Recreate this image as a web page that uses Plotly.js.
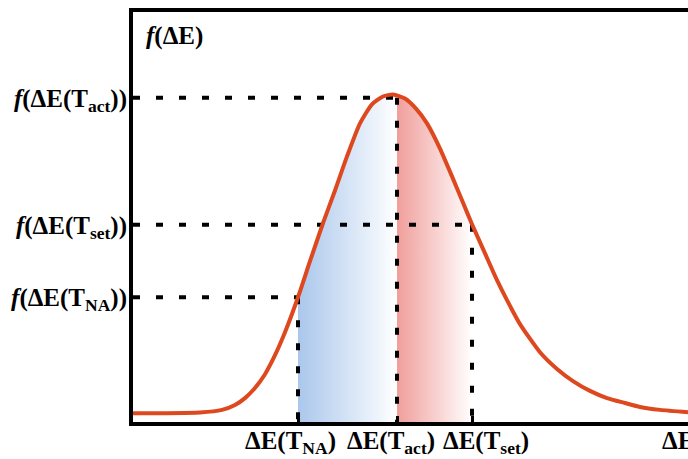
<!DOCTYPE html>
<html>
<head>
<meta charset="utf-8">
<script src="https://cdn.plot.ly/plotly-3.0.1.min.js"></script>
<style>html,body{margin:0;padding:0;background:#fff;}#chart{width:688px;height:459px;}</style>
</head>
<body>
<div id="chart"></div>
<script>
// Distribution curve f(ΔE) (arbitrary units, peak ≈ 1)
const curveX = [0, 0.64, 1.34, 1.78, 2.04, 2.24, 2.44, 2.64, 2.84, 3.04, 3.30, 3.54, 3.80, 4.04, 4.28, 4.54, 4.78, 5.00, 5.20, 5.44, 5.66, 5.88, 6.14, 6.38, 6.58, 6.78, 7.04, 7.28, 7.48, 7.74, 8.14, 8.48, 8.80, 9.14, 9.48, 9.84, 10.14, 10.54, 11.10];
const curveY = [0.027, 0.027, 0.029, 0.037, 0.052, 0.073, 0.104, 0.146, 0.204, 0.274, 0.381, 0.491, 0.607, 0.707, 0.811, 0.912, 0.970, 0.994, 1.000, 0.988, 0.957, 0.912, 0.835, 0.750, 0.677, 0.604, 0.515, 0.433, 0.372, 0.299, 0.213, 0.162, 0.125, 0.095, 0.073, 0.058, 0.046, 0.037, 0.030];

// Marked temperatures: ΔE values and f(ΔE) levels
const markNames = ["NA", "act", "set"];
const markX = [3.30, 5.28, 6.78];
const markY = [0.381, 0.990, 0.602];

const xTickText = ["ΔE(T<sub>NA</sub>)", "ΔE(T<sub>act</sub>)", "ΔE(T<sub>set</sub>)"];
const yTickText = ["<b><i>f</i>(ΔE(T<sub>NA</sub>))</b>", "<b><i>f</i>(ΔE(T<sub>act</sub>))</b>", "<b><i>f</i>(ΔE(T<sub>set</sub>))</b>"];

const FONT = "Liberation Serif";
const FS = 25;

function segment(x0, y0, x1, y1) {
  const xs = [x0], ys = [y0];
  for (let i = 0; i < curveX.length; i++) {
    if (curveX[i] > x0 && curveX[i] < x1) { xs.push(curveX[i]); ys.push(curveY[i]); }
  }
  xs.push(x1); ys.push(y1);
  return {xs, ys};
}

const blue = segment(markX[0], markY[0], markX[1], markY[1]);
const red = segment(markX[1], markY[1], markX[2], markY[2]);

const traces = [];
traces.push({
  x: blue.xs, y: blue.ys, type: 'scatter', mode: 'lines', fill: 'tozeroy',
  line: {width: 0, color: 'rgba(0,0,0,0)', shape: 'spline', smoothing: 0.6},
  fillgradient: {type: 'horizontal', colorscale: [[0, 'rgb(170,199,236)'], [1, 'rgb(255,255,255)']]},
  hoverinfo: 'skip', showlegend: false
});
traces.push({
  x: red.xs, y: red.ys, type: 'scatter', mode: 'lines', fill: 'tozeroy',
  line: {width: 0, color: 'rgba(0,0,0,0)', shape: 'spline', smoothing: 0.6},
  fillgradient: {type: 'horizontal', colorscale: [[0, 'rgb(240,158,155)'], [1, 'rgb(255,255,255)']]},
  hoverinfo: 'skip', showlegend: false
});
for (let i = 0; i < markX.length; i++) {
  traces.push({
    x: [0, markX[i]], y: [markY[i], markY[i]], type: 'scatter', mode: 'lines',
    line: {color: '#000', width: 4, dash: '7px,16px'}, hoverinfo: 'skip', showlegend: false
  });
  traces.push({
    x: [markX[i], markX[i]], y: [markY[i], 0], type: 'scatter', mode: 'lines',
    line: {color: '#000', width: 4, dash: '7px,16px'}, hoverinfo: 'skip', showlegend: false
  });
}
traces.push({
  x: curveX, y: curveY, type: 'scatter', mode: 'lines',
  line: {color: 'rgb(221,72,30)', width: 4, shape: 'spline', smoothing: 0.6},
  hoverinfo: 'skip', showlegend: false
});

const layout = {
  width: 688, height: 459,
  margin: {l: 133, r: 0, t: 12, b: 37, pad: 0},
  paper_bgcolor: '#fff', plot_bgcolor: '#fff',
  font: {family: FONT, size: FS, color: '#000'},
  showlegend: false,
  xaxis: {
    range: [0, 11.1], showgrid: false, zeroline: false,
    showline: true, linecolor: '#000', linewidth: 4, mirror: true,
    tickmode: 'array', tickvals: markX, showticklabels: false,
    ticks: 'inside', ticklen: 6, tickwidth: 3, tickcolor: '#000'
  },
  yaxis: {
    range: [0, 1.252], showgrid: false, zeroline: false,
    showline: true, linecolor: '#000', linewidth: 4, mirror: false,
    tickmode: 'array', tickvals: markY, ticktext: yTickText,
    ticks: '', ticklabelstandoff: -3, tickfont: {family: FONT, size: FS, color: '#000'}
  },
  annotations: [
    {x: markX[0], y: 0, xref: 'x', yref: 'paper', text: '<b>' + xTickText[0] + '</b>', showarrow: false, xanchor: 'center', yanchor: 'top', xshift: -8, yshift: -3, font: {family: FONT, size: FS}},
    {x: markX[1], y: 0, xref: 'x', yref: 'paper', text: '<b>' + xTickText[1] + '</b>', showarrow: false, xanchor: 'center', yanchor: 'top', xshift: -6, yshift: -3, font: {family: FONT, size: FS}},
    {x: markX[2], y: 0, xref: 'x', yref: 'paper', text: '<b>' + xTickText[2] + '</b>', showarrow: false, xanchor: 'center', yanchor: 'top', xshift: 14, yshift: -3, font: {family: FONT, size: FS}},
    {x: 10.54, y: 0, xref: 'x', yref: 'paper', text: '<b>ΔE</b>', showarrow: false, xanchor: 'left', yanchor: 'top', yshift: -3, font: {family: FONT, size: FS}},
    {x: 0.02, y: 0.98, xref: 'paper', yref: 'paper', text: '<b><i>f</i>(ΔE)</b>', showarrow: false, xanchor: 'left', yanchor: 'top', font: {family: FONT, size: FS}}
  ]
};

Plotly.newPlot('chart', traces, layout, {staticPlot: true, displayModeBar: false});
</script>
</body>
</html>
